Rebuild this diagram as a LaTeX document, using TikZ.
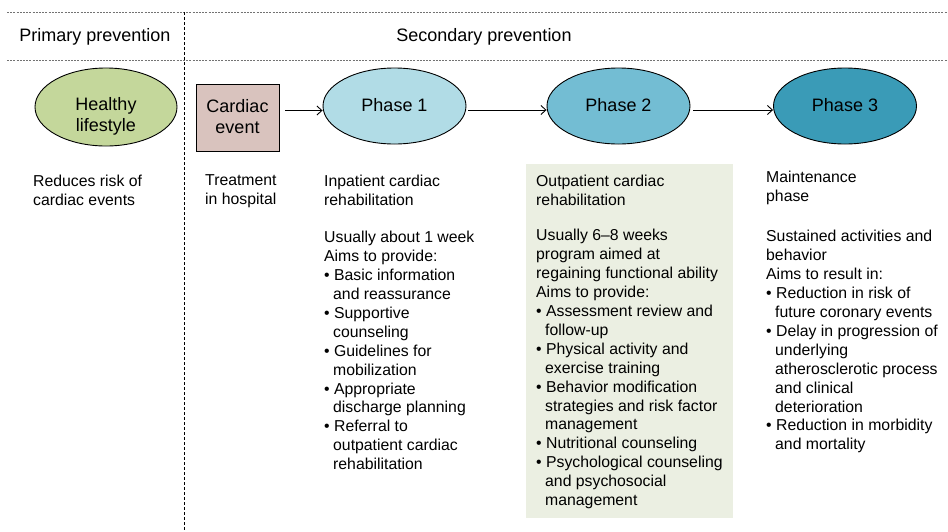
\documentclass[tikz,border=0pt]{standalone}
\usepackage{fontspec}
\setmainfont{Liberation Sans}
\usetikzlibrary{shapes.geometric,arrows.meta,calc}
\definecolor{hlgreen}{HTML}{C4D79B}
\definecolor{boxpink}{HTML}{D9C3BE}
\definecolor{ph1}{HTML}{B1DCE6}
\definecolor{ph2}{HTML}{73BDD3}
\definecolor{ph3}{HTML}{3A9BB7}
\definecolor{panel}{HTML}{EBEFE2}
\newcommand{\myind}{\hspace*{9pt}}
\tikzset{
  ell/.style={draw=black, line width=0.9pt, ellipse, inner sep=0pt, minimum width=143pt, minimum height=76pt},
  big/.style={font=\fontsize{18}{21}\selectfont, align=center, inner sep=0pt},
  body/.style={font=\fontsize{15.8}{18.9}\selectfont, align=left, anchor=north west, inner sep=0pt},
  arr/.style={-{Straight Barb[length=5pt,width=9pt]}, line width=0.9pt},
  hdash/.style={draw=black!55, line width=0.8pt, dash pattern=on 2pt off 1.2pt},
  vdash/.style={draw=black, line width=0.8pt, dash pattern=on 3pt off 2pt}
}
\begin{document}
\begin{tikzpicture}[x=1pt,y=-1pt]
\useasboundingbox (0,0) rectangle (948,531);
% panel
\fill[panel] (526,164) rectangle (733,518);
% dashed guides
\coordinate (h1a) at (7,12); \coordinate (h1b) at (948,12);
\coordinate (h2a) at (7,60); \coordinate (h2b) at (948,60);
\coordinate (v1a) at (184,12); \coordinate (v1b) at (184,531);
\draw[hdash] (h1a) -- (h1b);
\draw[hdash] (h2a) -- (h2b);
\draw[vdash] (v1a) -- (v1b);
% headers
\node[big] (prim) at (95,37) {Primary prevention};
\node[big] (sec) at (484,37) {Secondary prevention};
% shapes
\node[ell, fill=hlgreen, minimum width=142pt, minimum height=78pt] (hl) at (106,107) {};
\node[big] (hlt) at (106,116) {Healthy\\lifestyle};
\node[draw=black, line width=0.9pt, fill=boxpink, minimum width=83pt, minimum height=67pt, inner sep=0pt] (ce) at (237.5,117.5) {};
\node[big] (cet) at (237.5,116.5) {Cardiac\\event};
\node[ell, fill=ph1] (p1) at (394.5,106) {};
\node[big] (p1t) at (394.5,105) {Phase 1};
\node[ell, fill=ph2] (p2) at (618.5,106) {};
\node[big] (p2t) at (618.5,105) {Phase 2};
\node[ell, fill=ph3] (p3) at (845,106) {};
\node[big] (p3t) at (845,105) {Phase 3};
% arrows
\path (ce.east) ++(6,-7) coordinate (a1);
\path (p1.east) ++(2,4) coordinate (a2);
\path (p2.east) ++(3,4) coordinate (a3);
\draw[arr] (a1) -- (a1 -| p1.west);
\draw[arr] (a2) -- (a2 -| p2.west);
\draw[arr] (a3) -- (a3 -| p3.west);
% texts
\node[body] (t0) at (33,174.5) {Reduces risk of\\cardiac events};
\node[body] (t1) at (205,174.5) {Treatment\\in hospital};
\node[body] (t2) at (324,174.5) {Inpatient cardiac\\rehabilitation\\[18.9pt]Usually about 1 week\\Aims to provide:\\• Basic information\\\myind and reassurance\\• Supportive\\\myind counseling\\• Guidelines for\\\myind mobilization\\• Appropriate\\\myind discharge planning\\• Referral to\\\myind outpatient cardiac\\\myind rehabilitation};
\node[body] (t3) at (536,174.5) {Outpatient cardiac\\rehabilitation\\[17pt]Usually 6–8 weeks\\program aimed at\\regaining functional ability\\Aims to provide:\\• Assessment review and\\\myind follow-up\\• Physical activity and\\\myind exercise training\\• Behavior modification\\\myind strategies and risk factor\\\myind management\\• Nutritional counseling\\• Psychological counseling\\\myind and psychosocial\\\myind management};
\node[body] (t4) at (766,170.5) {Maintenance\\phase\\[22pt]Sustained activities and\\behavior\\Aims to result in:\\• Reduction in risk of\\\myind future coronary events\\• Delay in progression of\\\myind underlying\\\myind atherosclerotic process\\\myind and clinical\\\myind deterioration\\• Reduction in morbidity\\\myind and mortality};
\end{tikzpicture}
\end{document}
